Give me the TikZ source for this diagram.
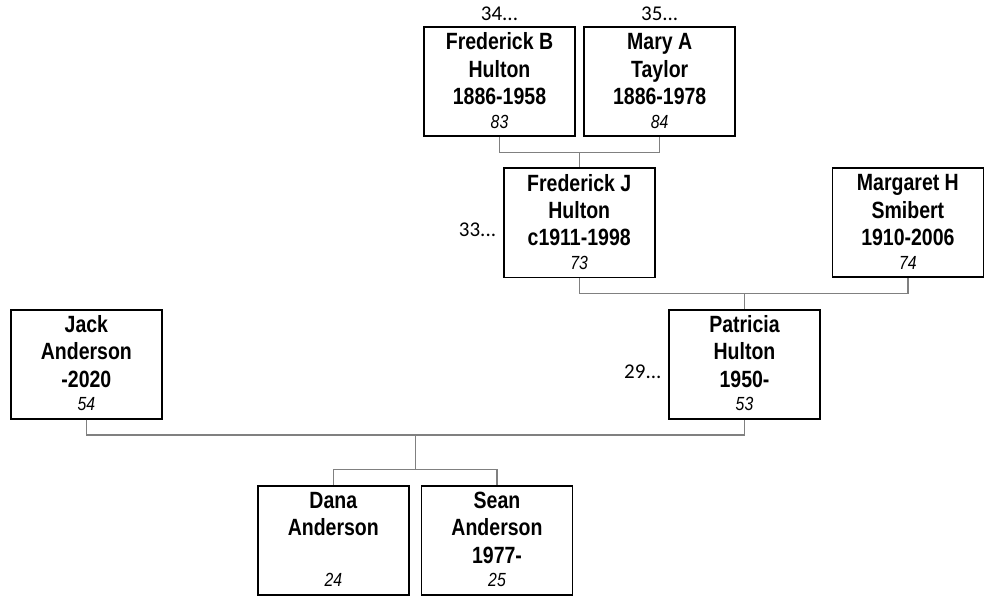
\documentclass[tikz,border=0pt]{standalone}
\usepackage{fontspec}
\newfontfamily\namefont{Liberation Sans}[FakeStretch=0.83]
\newfontfamily\labfont{Carlito}
\tikzset{
  pbox/.style={draw=black, line width=1.6pt, minimum width=151pt, minimum height=109pt, inner sep=0pt},
  pname/.style={anchor=base, inner sep=0pt, font=\namefont\bfseries\fontsize{23.5}{27}\selectfont},
  pnum/.style={anchor=base, inner sep=0pt, font=\namefont\itshape\fontsize{19}{21}\selectfont},
  plab/.style={inner sep=0pt, font=\labfont\fontsize{21}{24}\selectfont},
  link/.style={draw=black!50, line width=1.4pt},
}
\newcommand\person[6]{%
  \node[pbox] (#1) at (#2) {};
  \node[pname] (#1-a) at ([yshift=-23.5pt]#1.north) {#3};
  \node[pname] (#1-b) at ([yshift=-51pt]#1.north) {#4};
  \node[pname] (#1-c) at ([yshift=-78.3pt]#1.north) {#5};
  \node[pnum] (#1-d) at ([yshift=-102pt]#1.north) {#6};
}
\begin{document}
\begin{tikzpicture}[x=1pt,y=-1pt]
  \fill[white] (0,0) rectangle (984,596);
  \useasboundingbox (0,0) rectangle (984,596);

  \person{fb}{499.5,81.7}{Frederick B}{Hulton}{1886-1958}{83}
  \person{ma}{659.7,81.7}{Mary A}{Taylor}{1886-1978}{84}
  \person{fj}{579.2,222.8}{Frederick J}{Hulton}{c1911-1998}{73}
  \person{mh}{907.9,222.5}{Margaret H}{Smibert}{1910-2006}{74}
  \person{jack}{86.4,364.2}{Jack}{Anderson}{-2020}{54}
  \person{pat}{744.5,364.2}{Patricia}{Hulton}{1950-}{53}
  \person{dana}{333.3,540.2}{Dana}{Anderson}{}{24}
  \person{sean}{497,540.2}{Sean}{Anderson}{1977-}{25}

  \node[plab, anchor=base] (l34) at ([yshift=5.4pt]fb.north) {34...};
  \node[plab, anchor=base] (l35) at ([yshift=5.4pt]ma.north) {35...};
  \node[plab, anchor=base east] (l33) at ([xshift=-6.6pt,yshift=-14pt]fj.west) {33...};
  \node[plab, anchor=base east] (l29) at ([xshift=-6.6pt,yshift=-14pt]pat.west) {29...};

  \coordinate (u1) at (fj.north |- 0,152.7);
  \draw[link] (fb.south) |- (u1) -| (ma.south);
  \draw[link] (u1) -- (fj.north);
  \coordinate (u2) at (pat.north |- 0,293.3);
  \draw[link] (fj.south) |- (u2) -| (mh.south);
  \draw[link] (u2) -- (pat.north);
  \coordinate (u3) at (415.3,435);
  \coordinate (u4) at (415.3,469.3);
  \draw[link] (jack.south) |- (u3) -| (pat.south);
  \draw[link] (u3) -- (u4);
  \draw[link] (dana.north) |- (u4) -| (sean.north);
\end{tikzpicture}
\end{document}
